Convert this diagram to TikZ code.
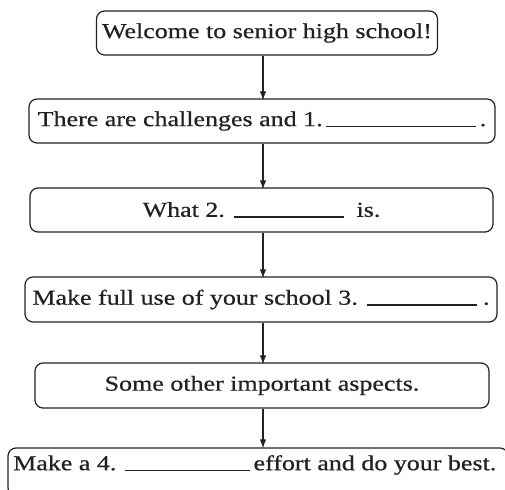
\documentclass[tikz,border=0pt]{standalone}
\usepackage{fontspec}
\setmainfont[FakeStretch=1.22,FakeBold=0.6]{Liberation Serif}
\usetikzlibrary{arrows.meta}
\definecolor{ink}{HTML}{222222}
\newcommand{\blank}[1]{\rule[-1.2pt]{#1pt}{1.5pt}}
\begin{document}
\begin{tikzpicture}[x=1pt,y=-1pt,
  box/.style={draw=ink,line width=1.2pt,rounded corners=8pt,inner sep=0pt,
    text=ink,font=\fontsize{21.3}{25}\selectfont},
  lbl/.style={inner sep=0pt,text=ink,font=\fontsize{21.3}{25}\selectfont},
  arr/.style={draw=ink,line width=1.2pt,-{Latex[length=9pt,width=6.5pt]}}]
\useasboundingbox (0,0) rectangle (505,489);
\clip (0,0) rectangle (505,489);
\fill[white] (0,0) rectangle (505,489);
\coordinate (ax) at (263,0);
\node[box,minimum width=341pt,minimum height=44pt] (b1) at (267,33)
  {Welcome to senior high school!};
\node[box,minimum width=466pt,minimum height=44pt] (b2) at (262,121)
  {There are challenges and 1.\,\blank{150}\,.};
\node[box,minimum width=463pt,minimum height=44pt] (b3) at (261.5,210)
  {What 2. \blank{110} \ is.};
\node[box,minimum width=472pt,minimum height=45pt] (b4) at (261,299.5)
  {Make full use of your school 3. \blank{110} .};
\node[box,minimum width=454pt,minimum height=45pt] (b5) at (262,385.5)
  {Some other important aspects.};
\node[box,minimum width=500pt,minimum height=48pt] (b6) at (258,472) {};
\node[lbl,anchor=west] (t6) at (13,465)
  {Make a 4. \blank{125}\,effort and do your best.};
\draw[arr] (b1.south -| ax) -- ([yshift=-2pt]b2.north -| ax);
\draw[arr] (b2.south -| ax) -- ([yshift=-2pt]b3.north -| ax);
\draw[arr] (b3.south -| ax) -- ([yshift=-2pt]b4.north -| ax);
\draw[arr] (b4.south -| ax) -- ([yshift=-2pt]b5.north -| ax);
\draw[arr] (b5.south -| ax) -- ([yshift=-1pt]b6.north -| ax);
\end{tikzpicture}
\end{document}
